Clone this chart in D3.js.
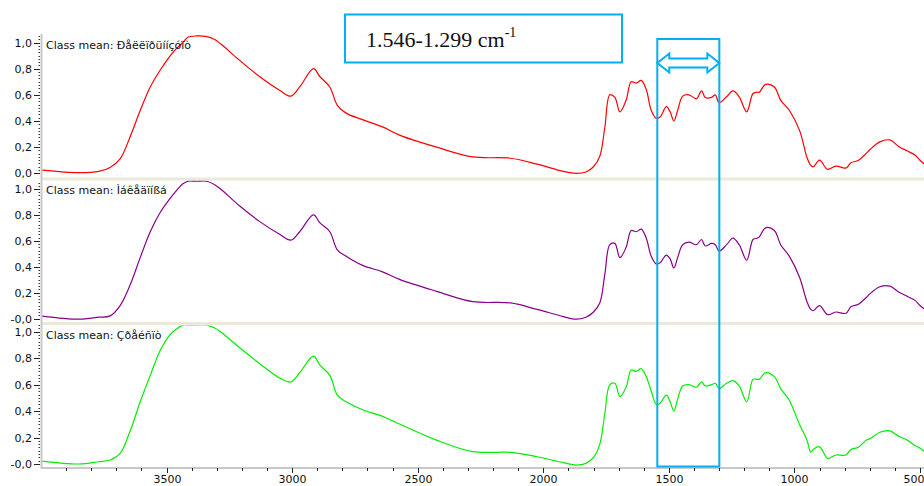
<!DOCTYPE html>
<html>
<head>
<meta charset="utf-8">
<title>Class mean spectra</title>
<style>
  body { margin: 0; background: #fff; }
  svg { display: block; }
  text { font-family: "DejaVu Sans", sans-serif; fill: #111; }
</style>
</head>
<body>
<div id="chart"></div>
<script src="https://cdn.jsdelivr.net/npm/d3@7"></script>
<script>
// wavenumbers (cm-1) shared by the three class means
const wavenumbers = [
  4000, 3850, 3770, 3725, 3685, 3645, 3605, 3565, 3525, 3485,
  3460, 3435, 3415, 3380, 3340, 3310, 3285, 3210, 3130, 3050, 3005, 2970, 2915,
  2890, 2850, 2820, 2785, 2720, 2640, 2570, 2425, 2280, 2130,
  2025, 1920, 1870, 1830, 1800, 1775, 1755, 1735, 1715, 1695,
  1670, 1650, 1630, 1610, 1590, 1570, 1550, 1535, 1510, 1495,
  1480, 1465, 1445, 1420, 1390, 1370, 1355, 1330, 1315, 1300,
  1270, 1245, 1220, 1190, 1165, 1150, 1140, 1115, 1080, 1055,
  1020, 980, 950, 935, 925, 900, 868, 835, 795, 775,
  745, 715, 700, 660, 620, 585, 550, 520, 500, 480
];

const classNames = ["Ðåëëïðüííçóïò", "Ìáêåäïíßá", "Çðåéñïò"];

const peloponnisosMean = [
  0.025, 0.005, 0.015, 0.045, 0.11, 0.28, 0.48, 0.66, 0.79, 0.90,
  0.955, 1.0, 1.04, 1.05, 1.045, 1.025, 0.99, 0.865, 0.74, 0.635, 0.59, 0.66, 0.80,
  0.74, 0.66, 0.52, 0.46, 0.41, 0.355, 0.29, 0.20, 0.125, 0.115,
  0.07, 0.015, 0.0, 0.01, 0.05, 0.13, 0.35, 0.60, 0.58, 0.47,
  0.56, 0.70, 0.69, 0.71, 0.64, 0.48, 0.42, 0.43, 0.51, 0.47,
  0.40, 0.48, 0.59, 0.60, 0.57, 0.63, 0.58, 0.58, 0.60, 0.54,
  0.585, 0.63, 0.585, 0.47, 0.61, 0.62, 0.62, 0.68, 0.66, 0.56,
  0.48, 0.33, 0.12, 0.06, 0.05, 0.10, 0.03, 0.055, 0.04, 0.08,
  0.10, 0.15, 0.18, 0.24, 0.255, 0.205, 0.17, 0.14, 0.10, 0.065
];

const makedoniaMean = [
  0.02, -0.005, 0.01, 0.02, 0.10, 0.26, 0.47, 0.67, 0.82, 0.93,
  0.99, 1.04, 1.06, 1.06, 1.06, 1.035, 1.0, 0.87, 0.75, 0.65, 0.605, 0.67, 0.80,
  0.74, 0.67, 0.53, 0.48, 0.41, 0.36, 0.30, 0.21, 0.13, 0.12,
  0.07, 0.015, -0.005, 0.01, 0.05, 0.12, 0.34, 0.57, 0.58, 0.47,
  0.55, 0.68, 0.67, 0.69, 0.62, 0.48, 0.42, 0.43, 0.49, 0.46,
  0.39, 0.47, 0.57, 0.59, 0.57, 0.61, 0.56, 0.58, 0.57, 0.52,
  0.57, 0.62, 0.57, 0.45, 0.61, 0.62, 0.63, 0.70, 0.68, 0.57,
  0.48, 0.32, 0.13, 0.07, 0.06, 0.10, 0.03, 0.05, 0.04, 0.09,
  0.11, 0.16, 0.19, 0.245, 0.25, 0.205, 0.17, 0.14, 0.10, 0.07
];

const ipirosMean = [
  0.023, 0.0, 0.017, 0.03, 0.08, 0.25, 0.47, 0.67, 0.86, 0.98,
  1.02, 1.05, 1.05, 1.05, 1.05, 1.03, 1.0, 0.88, 0.76, 0.65, 0.62, 0.69, 0.815,
  0.75, 0.67, 0.52, 0.47, 0.41, 0.36, 0.30, 0.18, 0.093, 0.088,
  0.055, 0.01, -0.008, 0.005, 0.05, 0.15, 0.38, 0.60, 0.61, 0.51,
  0.58, 0.71, 0.70, 0.72, 0.66, 0.55, 0.45, 0.46, 0.52, 0.47,
  0.40, 0.49, 0.59, 0.60, 0.58, 0.62, 0.59, 0.60, 0.61, 0.57,
  0.61, 0.63, 0.59, 0.47, 0.64, 0.64, 0.64, 0.69, 0.66, 0.57,
  0.48, 0.30, 0.18, 0.09, 0.11, 0.13, 0.043, 0.068, 0.068, 0.11,
  0.126, 0.18, 0.19, 0.24, 0.25, 0.21, 0.18, 0.14, 0.12, 0.09
];

const yTickValues = [0, 0.2, 0.4, 0.6, 0.8, 1.0];
const zeroLabels = ["0,0", "-0,0", "-0,0"];
const xTickValues = [3500, 3000, 2500, 2000, 1500, 1000, 500];
const bandRange = [1546, 1299];
const bandLabel = "1.546-1.299 cm";

const W = 924, H = 486;
const axisX = 41, axisY = 468;

const svg = d3.select("#chart").append("svg")
    .attr("width", W)
    .attr("height", H);

const x = d3.scaleLinear().domain([4000, 500]).range([41, 920]);

const panels = [
  { top: 34, bottom: 177.5, y0: 173.3, y1: 42.5, color: "#ff0000", values: peloponnisosMean, label: classNames[0], labelY: 49 },
  { top: 180.5, bottom: 322.5, y0: 318.5, y1: 189, color: "#880088", values: makedoniaMean, label: classNames[1], labelY: 194 },
  { top: 325.5, bottom: 467, y0: 464, y1: 331.7, color: "#00ee00", values: ipirosMean, label: classNames[2], labelY: 339 }
];

// separator bands between panels
svg.selectAll("rect.band")
    .data([177.5, 322])
    .enter().append("rect")
    .attr("class", "band")
    .attr("x", axisX)
    .attr("y", d => d)
    .attr("width", W - axisX)
    .attr("height", 3)
    .attr("fill", "#ece9d8");

panels.forEach(function (p, i) {
  const y = d3.scaleLinear().domain([0, 1]).range([p.y0, p.y1]);

  svg.append("clipPath").attr("id", "clip" + i)
    .append("rect")
    .attr("x", axisX + 1).attr("y", p.top)
    .attr("width", W - axisX).attr("height", p.bottom - p.top);

  const line = d3.line()
      .x((d, j) => x(wavenumbers[j]))
      .y(d => y(d))
      .curve(d3.curveCatmullRom.alpha(0.5));

  svg.append("path")
      .datum(p.values)
      .attr("clip-path", "url(#clip" + i + ")")
      .attr("fill", "none")
      .attr("stroke", p.color)
      .attr("stroke-width", 1.2)
      .attr("d", line);

  // minor ticks
  svg.selectAll("line.minor" + i)
      .data(d3.range(0, 1.06, 0.025))
      .enter().append("line")
      .attr("x1", 38.5).attr("x2", 40)
      .attr("y1", d => Math.round(y(d)) + 0.5)
      .attr("y2", d => Math.round(y(d)) + 0.5)
      .attr("stroke", "#333");

  // major ticks + labels
  const tk = svg.selectAll("g.ytick" + i)
      .data(yTickValues)
      .enter().append("g")
      .attr("transform", d => "translate(0," + (Math.round(y(d)) + 0.5) + ")");
  tk.append("line").attr("x1", 34).attr("x2", 40).attr("stroke", "#222");
  tk.append("text")
      .attr("x", 32)
      .attr("dy", "0.35em")
      .attr("text-anchor", "end")
      .attr("font-size", 11)
      .text(d => d === 0 ? zeroLabels[i] : d3.format(".1f")(d).replace(".", ","));

  svg.append("text")
      .attr("x", 46)
      .attr("y", p.labelY)
      .attr("font-size", 11)
      .text("Class mean: " + p.label);
});

// left axis line
svg.append("line")
    .attr("x1", axisX + 0.5).attr("x2", axisX + 0.5)
    .attr("y1", 34).attr("y2", axisY + 1)
    .attr("stroke", "#c8c8c8").attr("stroke-width", 2);

// bottom axis
svg.append("line")
    .attr("x1", axisX).attr("x2", W)
    .attr("y1", axisY).attr("y2", axisY)
    .attr("stroke", "#c8c8c8").attr("stroke-width", 2);

svg.selectAll("line.xminor")
    .data(d3.range(3900, 450, -100))
    .enter().append("line")
    .attr("x1", d => Math.round(x(d)) + 0.5)
    .attr("x2", d => Math.round(x(d)) + 0.5)
    .attr("y1", axisY).attr("y2", axisY + 3)
    .attr("stroke", "#222");

const xt = svg.selectAll("g.xtick")
    .data(xTickValues)
    .enter().append("g")
    .attr("transform", d => "translate(" + (Math.round(x(d)) + 0.5) + ",0)");
xt.append("line").attr("y1", axisY).attr("y2", axisY + 5).attr("stroke", "#222");
xt.append("text")
    .attr("y", 483)
    .attr("text-anchor", d => d === 500 ? "end" : "middle")
    .attr("x", d => d === 500 ? 924 - Math.round(x(d)) : 0)
    .attr("font-size", 11)
    .text(d => d);

// highlighted band
const blue = "#00b0f0";
const bx0 = x(bandRange[0]), bx1 = x(bandRange[1]);
svg.append("rect")
    .attr("x", bx0).attr("y", 39)
    .attr("width", bx1 - bx0).attr("height", 466.5 - 39)
    .attr("fill", "none")
    .attr("stroke", blue).attr("stroke-width", 2);

// double-headed arrow across the band
const ay = 63, sh = 4.5, hh = 9.5, hl = 12;
const arrow = [
  [bx0, ay], [bx0 + hl, ay - hh], [bx0 + hl, ay - sh], [bx1 - hl, ay - sh],
  [bx1 - hl, ay - hh], [bx1, ay], [bx1 - hl, ay + hh], [bx1 - hl, ay + sh],
  [bx0 + hl, ay + sh], [bx0 + hl, ay + hh]
];
svg.append("path")
    .attr("d", d3.line()(arrow) + "Z")
    .attr("fill", "#fff")
    .attr("stroke", blue).attr("stroke-width", 2);

// label box
svg.append("rect")
    .attr("x", 345).attr("y", 14.5)
    .attr("width", 277).attr("height", 48)
    .attr("fill", "#fff")
    .attr("stroke", blue).attr("stroke-width", 2);

const lbl = svg.append("text")
    .attr("x", 366).attr("y", 47)
    .style("font-family", "'Liberation Serif', 'Times New Roman', serif")
    .attr("font-size", 22)
    .text(bandLabel);
lbl.append("tspan")
    .attr("dy", -10)
    .attr("font-size", 14)
    .text("-1");
</script>
</body>
</html>
